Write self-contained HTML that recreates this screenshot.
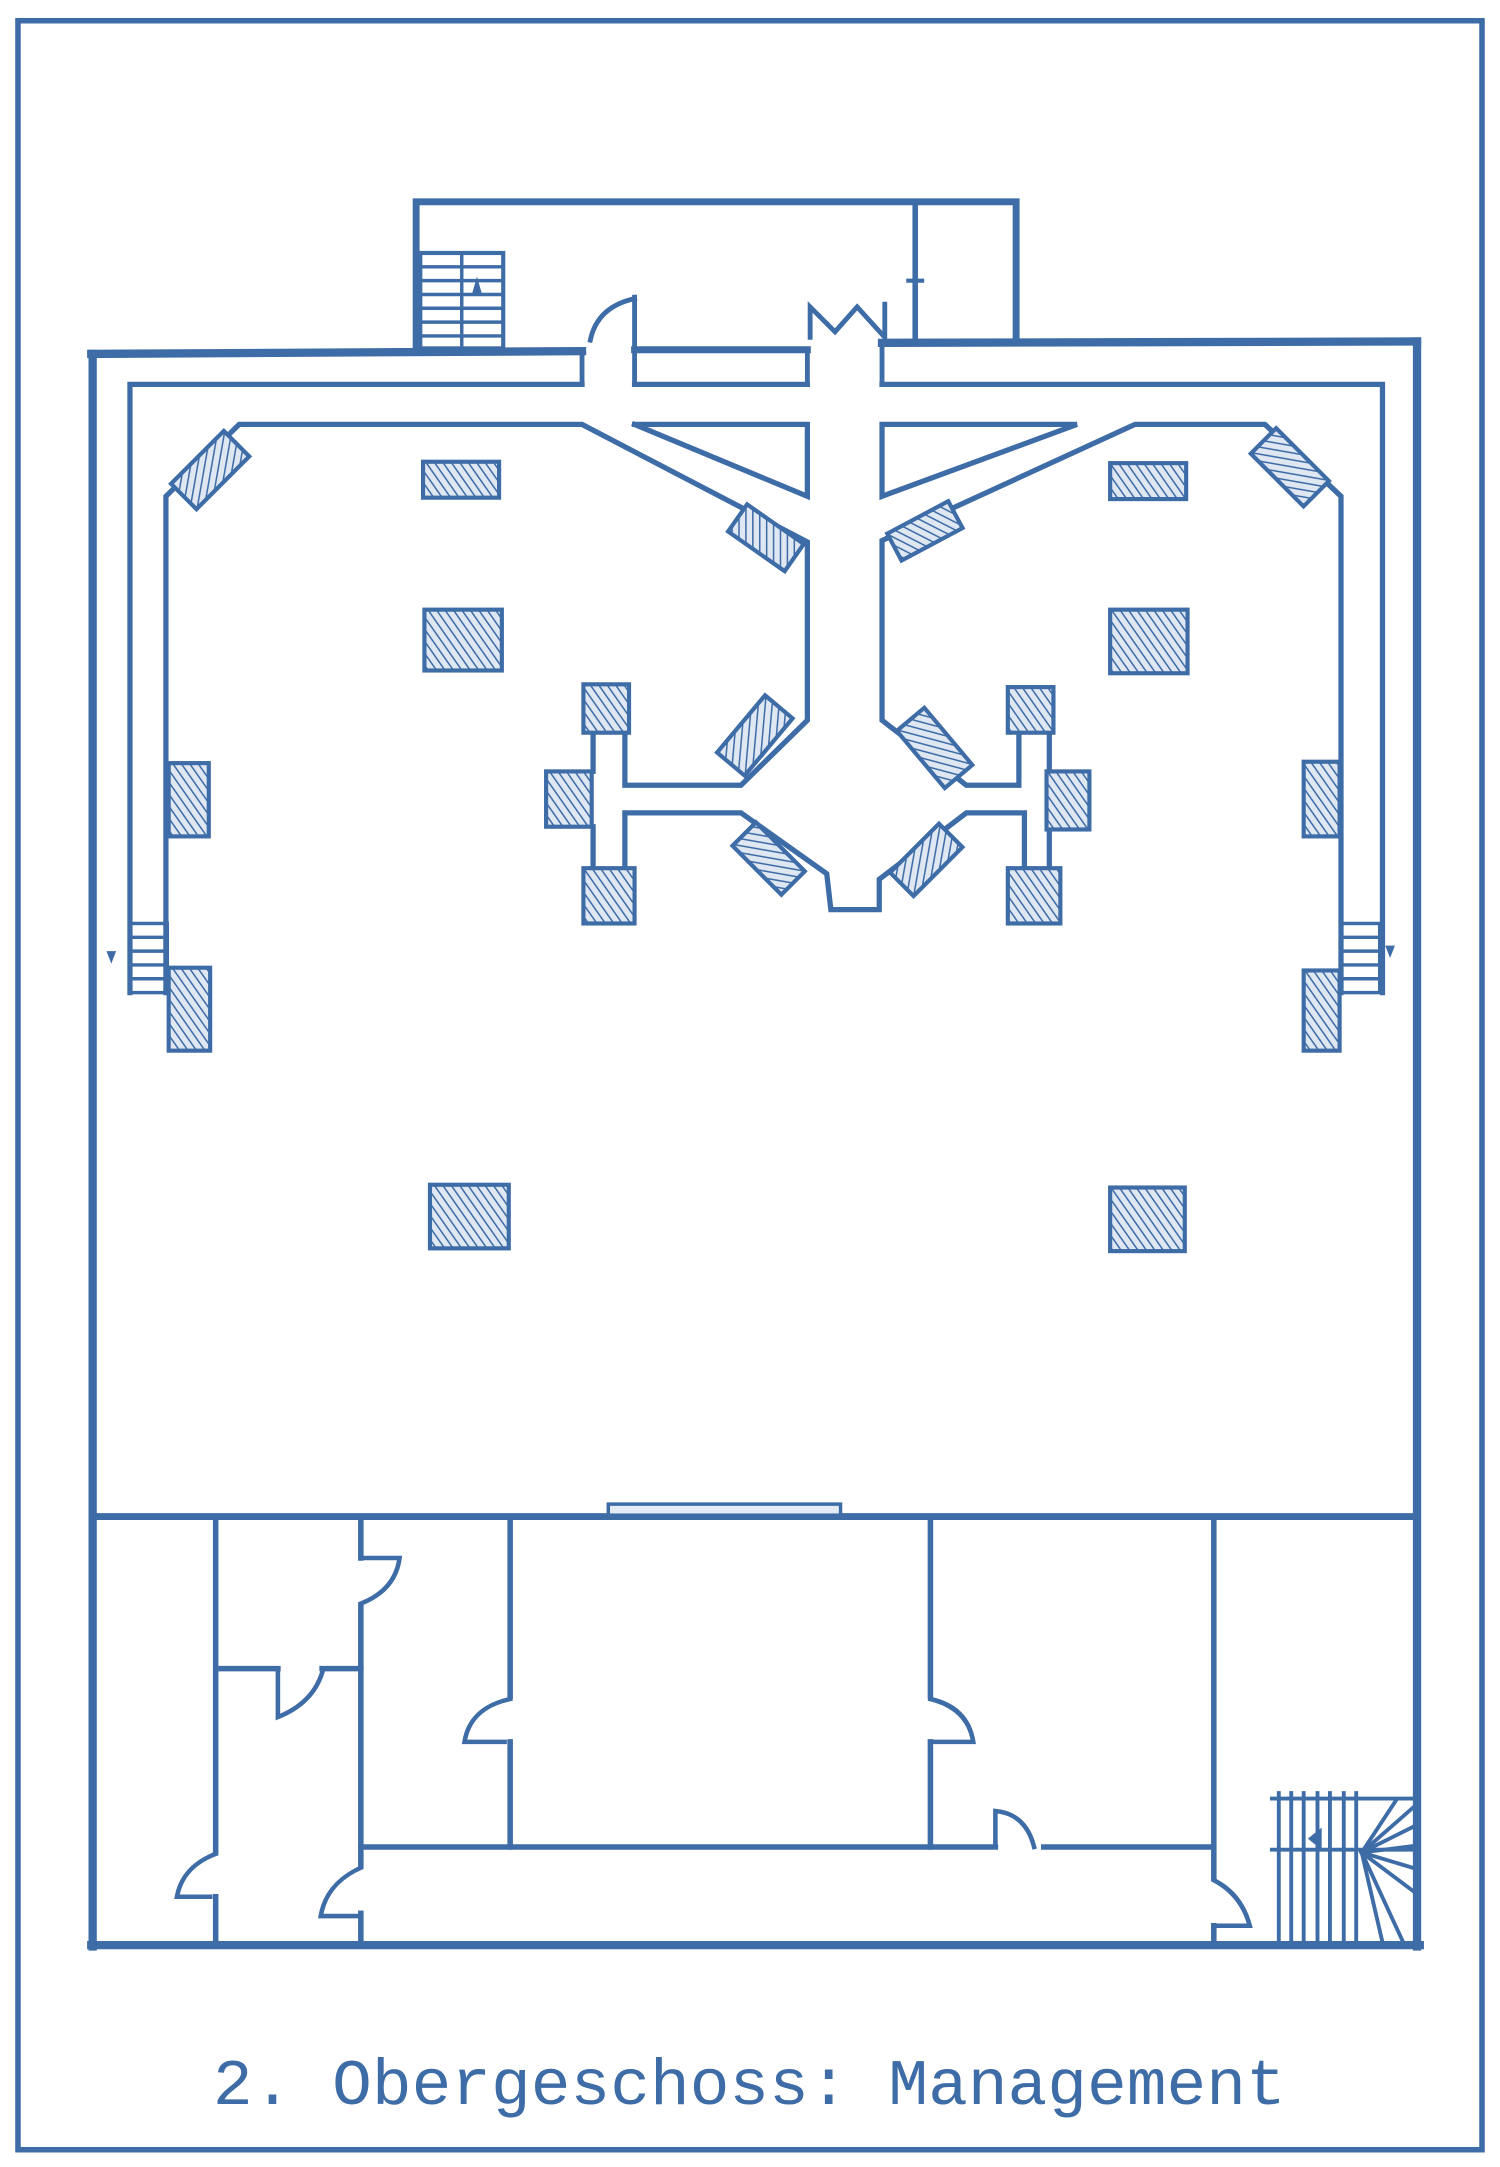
<!DOCTYPE html>
<html><head><meta charset="utf-8"><style>
html,body{margin:0;padding:0;background:#fff;}
svg{display:block;}
</style></head><body>
<svg width="1500" height="2167" viewBox="0 0 1085 1567.5" xmlns="http://www.w3.org/2000/svg">
<defs>
<pattern id="h" patternUnits="userSpaceOnUse" width="5" height="5" patternTransform="rotate(-35)">
<rect width="5" height="5" fill="#dfe7f2"/>
<line x1="0" y1="0" x2="0" y2="5" stroke="#3e6ca7" stroke-width="2.2"/>
</pattern>
</defs>
<g fill="none" stroke="#3e6ca7" stroke-linecap="square">
<!-- frame -->
<rect x="13" y="15" width="1059" height="1540" stroke-width="4"/>
<!-- annex -->
<path d="M301 252 V146 H735 V248" stroke-width="5"/>
<line x1="662" y1="146" x2="662" y2="248" stroke-width="4"/>
<path d="M657 203 h10" stroke-width="3"/>
<!-- annex stair -->
<rect x="304" y="183" width="60" height="69" stroke-width="3"/>
<g stroke-width="2.5">
<line x1="304" y1="193" x2="364" y2="193"/><line x1="304" y1="203" x2="364" y2="203"/>
<line x1="304" y1="213" x2="364" y2="213"/><line x1="304" y1="223" x2="364" y2="223"/>
<line x1="304" y1="233" x2="364" y2="233"/><line x1="304" y1="243" x2="364" y2="243"/>
<line x1="334" y1="183" x2="334" y2="252"/>
</g>
<path d="M345 200 l-4 14 h8 z" fill="#3e6ca7" stroke="none"/>
<!-- top outer walls -->
<line x1="66" y1="256" x2="421" y2="254" stroke-width="6"/>
<line x1="459" y1="253" x2="584" y2="253" stroke-width="5"/>
<line x1="638" y1="248" x2="1025" y2="247" stroke-width="6"/>
<!-- outer walls -->
<line x1="67" y1="256" x2="67" y2="1408" stroke-width="6"/>
<line x1="1025" y1="247" x2="1025" y2="1408" stroke-width="6"/>
<line x1="66" y1="1407" x2="1027" y2="1407" stroke-width="6"/>
<!-- doors top -->
<line x1="459" y1="215" x2="459" y2="253" stroke-width="3.5"/>
<line x1="421" y1="253" x2="421" y2="278" stroke-width="3.5"/>
<line x1="459" y1="253" x2="459" y2="278" stroke-width="3.5"/>
<path d="M459 216 Q432 222 427 246" stroke-width="3.5"/>
<path d="M586 244 V222 L604 240 L620 222 L640 244 V220" stroke-width="3.5"/>
<line x1="584" y1="253" x2="584" y2="278" stroke-width="3.5"/>
<line x1="638" y1="248" x2="638" y2="278" stroke-width="3.5"/>
<!-- corridor -->
<g stroke-width="3.8">
<polyline points="421,278 94,278 94,718"/>
<line x1="459" y1="278" x2="584" y2="278"/>
<polyline points="638,278 1000,278 1000,718"/>
<polyline points="120,718 120,359 173,307 421,307 584,392 584,521 536,568 452,568 452,530"/>
<polyline points="459,307 584,307 584,359 459,307"/>
<polyline points="638,307 779,307 638,359 638,307"/>
<polyline points="970,718 970,359 915,307 821,307 638,391 638,521 699,568 737,568 737,530"/>
<polyline points="452,628 452,588 536,588 598,632 601,658 636,658 636,636 699,588 741,588 741,628"/>
<line x1="429" y1="530" x2="429" y2="558"/>
<line x1="429" y1="598" x2="429" y2="628"/>
<line x1="759" y1="530" x2="759" y2="558"/>
<line x1="759" y1="600" x2="759" y2="628"/>
</g>
<!-- small stairs -->
<g stroke-width="2.5">
<rect x="94" y="668" width="27" height="50"/>
<line x1="94" y1="678" x2="121" y2="678"/><line x1="94" y1="688" x2="121" y2="688"/>
<line x1="94" y1="698" x2="121" y2="698"/><line x1="94" y1="708" x2="121" y2="708"/>
<rect x="970" y="668" width="28" height="50"/>
<line x1="970" y1="678" x2="998" y2="678"/><line x1="970" y1="688" x2="998" y2="688"/>
<line x1="970" y1="698" x2="998" y2="698"/><line x1="970" y1="708" x2="998" y2="708"/>
</g>
<path d="M77 688 h7 l-3.5 9 z M1002 684 h7 l-3.5 9 z" fill="#3e6ca7" stroke="none"/>
<!-- piers -->
<g fill="url(#h)" stroke-width="3">
<rect x="306" y="334" width="55" height="26"/>
<rect x="307" y="441" width="56" height="44"/>
<rect x="122" y="552" width="29" height="53"/>
<rect x="122" y="700" width="30" height="60"/>
<rect x="311" y="857" width="57" height="46"/>
<rect x="803" y="335" width="55" height="26"/>
<rect x="803" y="441" width="56" height="46"/>
<rect x="943" y="551" width="26" height="54"/>
<rect x="943" y="702" width="26" height="58"/>
<rect x="803" y="859" width="54" height="46"/>
<rect x="422" y="495" width="33" height="35"/>
<rect x="395" y="558" width="33" height="40"/>
<rect x="422" y="628" width="37" height="40"/>
<rect x="729" y="497" width="33" height="33"/>
<rect x="757" y="558" width="31" height="42"/>
<rect x="729" y="628" width="38" height="40"/>
<rect x="-13" y="-27" width="26" height="54" transform="translate(152,340) rotate(45)"/>
<rect x="-13" y="-27" width="26" height="54" transform="translate(933,338) rotate(-45)"/>
<rect x="-25" y="-12" width="50" height="24" transform="translate(554,389) rotate(35)"/>
<rect x="-25" y="-11" width="50" height="22" transform="translate(669,384) rotate(-28)"/>
<rect x="-13" y="-27" width="26" height="54" transform="translate(546,532) rotate(40)"/>
<rect x="-13" y="-27" width="26" height="54" transform="translate(676,541) rotate(-40)"/>
<rect x="-12" y="-25" width="24" height="50" transform="translate(556,621) rotate(-45)"/>
<rect x="-12" y="-25" width="24" height="50" transform="translate(670,622) rotate(45)"/>
</g>
<!-- lower section -->
<line x1="67" y1="1097" x2="1025" y2="1097" stroke-width="5"/>
<rect x="440" y="1088" width="168" height="8" stroke-width="2.5" fill="#e6ecf5"/>
<g stroke-width="4">
<line x1="156" y1="1097" x2="156" y2="1339"/><line x1="156" y1="1372" x2="156" y2="1407"/>
<line x1="261" y1="1097" x2="261" y2="1127"/><line x1="261" y1="1162" x2="261" y2="1349"/><line x1="261" y1="1384" x2="261" y2="1407"/>
<line x1="369" y1="1097" x2="369" y2="1227"/><line x1="369" y1="1260" x2="369" y2="1336"/>
<line x1="673" y1="1097" x2="673" y2="1227"/><line x1="673" y1="1260" x2="673" y2="1336"/>
<line x1="878" y1="1097" x2="878" y2="1358"/><line x1="878" y1="1393" x2="878" y2="1407"/>
<line x1="160" y1="1207" x2="201" y2="1207"/><line x1="233" y1="1207" x2="261" y2="1207"/>
<line x1="261" y1="1336" x2="720" y2="1336"/><line x1="755" y1="1336" x2="876" y2="1336"/>
</g>
<g stroke-width="3.3">
<path d="M261 1127 H289 Q286 1150 261 1160"/>
<path d="M201 1207 V1242 Q226 1232 233 1210"/>
<path d="M369 1229 Q340 1235 336 1260 H365"/>
<path d="M673 1229 Q700 1235 704 1260 H676"/>
<path d="M720 1336 V1310 Q742 1312 748 1336"/>
<path d="M156 1341 Q132 1350 128 1372 H152"/>
<path d="M261 1351 Q236 1362 232 1386 H258"/>
<path d="M878 1360 Q898 1370 904 1393 H880"/>
</g>
<!-- stair bottom right -->
<g stroke-width="2.8">
<line x1="920" y1="1301" x2="1025" y2="1301"/>
<line x1="920" y1="1338" x2="1025" y2="1338"/>
<line x1="925" y1="1297" x2="925" y2="1407"/><line x1="934" y1="1297" x2="934" y2="1407"/>
<line x1="943" y1="1297" x2="943" y2="1407"/><line x1="953" y1="1297" x2="953" y2="1407"/>
<line x1="962" y1="1297" x2="962" y2="1407"/><line x1="972" y1="1297" x2="972" y2="1407"/>
<line x1="981" y1="1297" x2="981" y2="1407"/>
<line x1="985" y1="1340" x2="1025" y2="1305"/><line x1="985" y1="1340" x2="1025" y2="1320"/>
<line x1="985" y1="1340" x2="1025" y2="1335"/><line x1="985" y1="1340" x2="1025" y2="1352"/>
<line x1="985" y1="1340" x2="1025" y2="1370"/><line x1="985" y1="1340" x2="1015" y2="1405"/>
<line x1="985" y1="1340" x2="1000" y2="1405"/><line x1="985" y1="1340" x2="1010" y2="1302"/>
</g>
<path d="M946 1330 l10 -8 v16 z" fill="#3e6ca7" stroke="none"/>
</g>
<text x="154" y="1522" font-family="Liberation Mono, monospace" font-size="47" fill="#3e6ca7" textLength="776" lengthAdjust="spacingAndGlyphs">2. Obergeschoss: Management</text>
</svg>
</body></html>
